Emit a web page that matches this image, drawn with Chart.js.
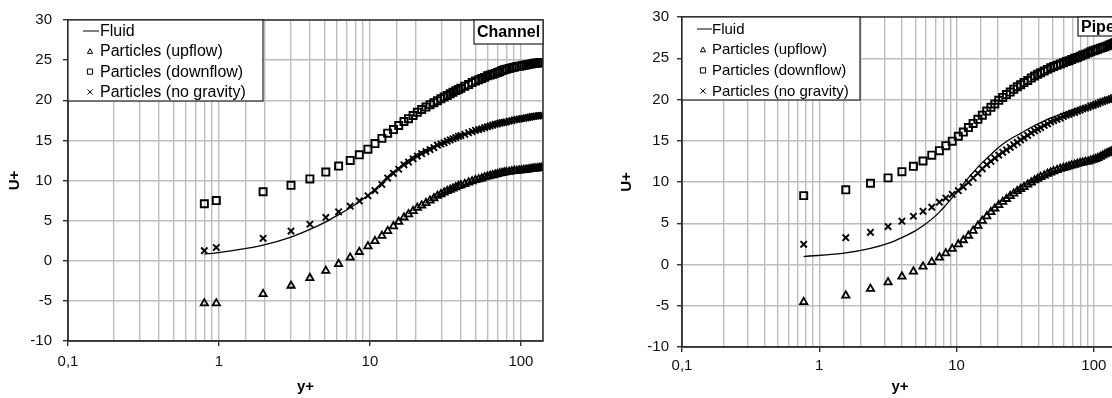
<!DOCTYPE html>
<html>
<head>
<meta charset="utf-8">
<script src="https://cdn.jsdelivr.net/npm/chart.js@4.4.1/dist/chart.umd.min.js"></script>
<style>
html,body{margin:0;padding:0;background:#fff;overflow:hidden;width:1112px;height:398px;position:relative}
.panel{position:absolute;top:0}
#left{left:0}
#right{left:612px}
</style>
</head>
<body>
<div class="panel" id="left"><canvas id="channelChart" width="556" height="398"></canvas></div>
<div class="panel" id="right"><canvas id="pipeChart" width="524" height="398"></canvas></div>
<script>
const seriesNames = ['Fluid', 'Particles (upflow)', 'Particles (downflow)', 'Particles (no gravity)'];
const xLabelTicks = [0.1, 1, 10, 100];
const yMin = -10, yMax = 30, yStep = 5;

// Channel
const chYplus = [0.8, 0.96, 1.96, 3.0, 4.0, 5.1, 6.2, 7.4, 8.5, 9.7, 10.8,
  12.0, 13.1, 14.3, 15.5, 16.8, 18.0, 19.3,
  20.6, 22.0, 23.5, 25.0, 26.5, 28.0, 29.5, 31.0, 32.5, 34.0, 35.5, 37.0, 38.5, 40.0,
  42.5, 45, 47.5, 50, 52.5, 55, 57.5, 60, 62.5, 65, 67.5, 70, 72.5, 75, 77.5, 80,
  83.5, 87, 90.5, 94, 97.5, 101, 104.5, 108, 111.5, 115, 118.5, 122, 125.5, 129, 132.5, 136, 139.5];
const chUp = [-5.3, -5.3, -4.15, -3.1, -2.15, -1.25, -0.4, 0.4, 1.1, 1.8, 2.45,
  3.1, 3.7, 4.3, 4.85, 5.4, 5.8, 6.2,
  6.6, 6.9, 7.2, 7.5, 7.8, 8.1, 8.3, 8.5, 8.7, 8.85, 9.0, 9.15, 9.3, 9.4,
  9.55, 9.75, 9.9, 10.05, 10.15, 10.25, 10.4, 10.5, 10.6, 10.65, 10.75, 10.8, 10.9, 10.95, 11.0, 11.05,
  11.1, 11.15, 11.2, 11.22, 11.25, 11.28, 11.32, 11.35, 11.38, 11.42, 11.45, 11.48, 11.5, 11.53, 11.56, 11.58, 11.6];
const chDown = [7.1, 7.5, 8.6, 9.4, 10.2, 11.05, 11.8, 12.5, 13.2, 13.9, 14.6,
  15.25, 15.9, 16.35, 16.85, 17.35, 17.7, 18.1,
  18.5, 18.85, 19.15, 19.45, 19.7, 19.95, 20.2, 20.4, 20.6, 20.8, 21.0, 21.2, 21.35, 21.5,
  21.75, 21.95, 22.2, 22.4, 22.55, 22.7, 22.85, 23.05, 23.15, 23.25, 23.35, 23.45, 23.55, 23.7, 23.8, 23.85,
  23.95, 24.05, 24.1, 24.2, 24.25, 24.3, 24.35, 24.4, 24.45, 24.5, 24.55, 24.6, 24.62, 24.65, 24.68, 24.7, 24.72];
const chNoGrav = [1.25, 1.65, 2.8, 3.7, 4.55, 5.4, 6.1, 6.8, 7.45, 8.1, 8.75,
  9.5, 10.3, 10.9, 11.4, 11.95, 12.3, 12.7,
  13.05, 13.35, 13.6, 13.85, 14.1, 14.4, 14.55, 14.7, 14.9, 15.05, 15.2, 15.35, 15.5, 15.6,
  15.75, 15.95, 16.1, 16.25, 16.35, 16.45, 16.6, 16.7, 16.8, 16.9, 17.0, 17.05, 17.15, 17.2, 17.25, 17.3,
  17.4, 17.45, 17.55, 17.6, 17.65, 17.7, 17.75, 17.8, 17.85, 17.9, 17.95, 18.0, 18.02, 18.05, 18.08, 18.1, 18.12];
const chFluidYplus = [0.8, 0.96, 1.96, 3.0, 4.0, 5.1, 6.2, 7.4, 8.5, 9.7, 10.8, 12.0, 13.1, 14.3, 15.5, 16.8, 18, 19.3,
  20.6, 23.5, 26.5, 29.5, 32.5, 35.5, 40, 45, 50, 55, 60, 67.5, 75, 83.5, 94, 104.5, 115, 125.5, 139.5];
const chFluid = [0.83, 0.98, 1.95, 2.95, 3.9, 4.85, 5.75, 6.6, 7.35, 8.15, 8.9, 9.75, 10.5, 11.1, 11.6, 12.15, 12.55, 12.95,
  13.3, 13.85, 14.3, 14.7, 15.05, 15.3, 15.7, 16.0, 16.3, 16.5, 16.75, 17.05, 17.25, 17.45, 17.65, 17.8, 17.9, 18.0, 18.1];

// Pipe
const pYplus = [0.77, 1.56, 2.36, 3.17, 4.0, 4.85, 5.7, 6.6, 7.5, 8.35, 9.3, 10.3, 11.2, 12.2,
  13.2, 14.3, 15.4, 16.6, 17.8, 19.0, 20.3, 21.7, 23.1, 24.6, 26.1, 27.7, 29.3,
  31, 33, 35, 37, 39, 41, 43.5, 46, 48.5, 51, 54, 57, 60, 63, 66, 69, 72.5, 76, 79.5,
  83, 87, 91, 95, 99, 103, 107, 111.5, 116, 120.5, 125, 129.5, 134, 138.5, 143, 147.5];
const pUp = [-4.55, -3.75, -2.95, -2.15, -1.45, -0.85, -0.25, 0.3, 0.85, 1.35, 1.9, 2.45, 2.95, 3.5,
  4.1, 4.7, 5.3, 5.85, 6.35, 6.8, 7.2, 7.6, 7.95, 8.3, 8.6, 8.9, 9.15,
  9.4, 9.7, 9.95, 10.2, 10.4, 10.6, 10.8, 11.0, 11.15, 11.3, 11.45, 11.6, 11.7, 11.8, 11.9, 12.0, 12.1, 12.2, 12.3,
  12.35, 12.45, 12.5, 12.6, 12.7, 12.8, 12.9, 13.05, 13.2, 13.35, 13.5, 13.6, 13.7, 13.8, 13.9, 14.0];
const pDown = [8.35, 9.05, 9.85, 10.5, 11.25, 11.9, 12.55, 13.25, 13.8, 14.4, 14.95, 15.55, 16.05, 16.6,
  17.1, 17.6, 18.1, 18.6, 19.05, 19.45, 19.9, 20.25, 20.6, 20.9, 21.25, 21.55, 21.8,
  22.05, 22.3, 22.6, 22.85, 23.05, 23.25, 23.45, 23.65, 23.85, 24.0, 24.15, 24.3, 24.45, 24.6, 24.7, 24.85, 25.0, 25.1, 25.25,
  25.4, 25.5, 25.65, 25.8, 25.9, 26.0, 26.1, 26.2, 26.3, 26.4, 26.5, 26.6, 26.7, 26.8, 26.9, 27.0];
const pNoGrav = [2.45, 3.25, 3.9, 4.6, 5.25, 5.85, 6.45, 6.95, 7.55, 8.05, 8.5, 8.95, 9.4, 9.95,
  10.5, 11.05, 11.6, 12.1, 12.5, 12.9, 13.25, 13.6, 13.9, 14.2, 14.5, 14.8, 15.1,
  15.35, 15.65, 15.95, 16.2, 16.4, 16.6, 16.85, 17.05, 17.3, 17.45, 17.6, 17.75, 17.95, 18.1, 18.2, 18.35, 18.45, 18.6, 18.7,
  18.85, 18.95, 19.05, 19.2, 19.3, 19.4, 19.5, 19.65, 19.75, 19.85, 19.95, 20.0, 20.1, 20.2, 20.3, 20.4];
const pFluidYplus = [0.77, 1.56, 2.36, 3.17, 4.0, 4.85, 5.7, 6.6, 7.5, 8.35, 9.3, 10.3, 11.2, 12.2, 13.2, 14.3, 15.4, 16.6, 17.8, 19.0,
  20.3, 23.1, 26.1, 29.3, 33, 37, 41, 46, 51, 57, 63, 69, 76, 83, 91, 99, 107, 116, 125, 134, 143, 147.5];
const pFluid = [0.96, 1.4, 1.95, 2.55, 3.25, 3.95, 4.7, 5.5, 6.35, 7.2, 8.1, 9.0, 9.75, 10.5, 11.15, 11.8, 12.35, 12.85, 13.35, 13.8,
  14.2, 14.9, 15.45, 15.9, 16.4, 16.85, 17.2, 17.6, 17.9, 18.2, 18.45, 18.7, 18.9, 19.1, 19.3, 19.45, 19.6, 19.8, 19.95, 20.1, 20.3, 20.4];

const FONT = '"Liberation Sans", Arial, sans-serif';
Chart.defaults.font.family = FONT;
Chart.defaults.color = '#000';

const pts = (xs, ys) => xs.map((x, i) => ({x: x, y: ys[i]}));
const isDecade = v => { const e = Math.log10(v); return Math.abs(e - Math.round(e)) < 1e-6; };

function legendGlyph(ctx, style, x, y, r){
  ctx.beginPath();
  if(style==='rect'){ ctx.rect(x-r, y-r, 2*r, 2*r); }
  else if(style==='triangle'){ ctx.moveTo(x, y-r); ctx.lineTo(x+r, y+r*0.8); ctx.lineTo(x-r, y+r*0.8); ctx.closePath(); }
  else { ctx.moveTo(x-r, y-r); ctx.lineTo(x+r, y+r); ctx.moveTo(x+r, y-r); ctx.lineTo(x-r, y+r); }
  ctx.stroke();
}

const panelDecor = {
  id: 'panelDecor',
  afterDraw(chart, args, o){
    const {ctx, chartArea: a} = chart;
    ctx.save();
    ctx.strokeStyle = '#333'; ctx.lineWidth = 1.5;
    ctx.strokeRect(a.left, a.top, a.right - a.left, a.bottom - a.top);

    // legend box
    const L = o.legend, bx = a.left, by = a.top;
    ctx.fillStyle = '#fff'; ctx.fillRect(bx, by, L.w, L.h);
    ctx.lineWidth = 1.2; ctx.strokeStyle = '#222'; ctx.strokeRect(bx, by, L.w, L.h);
    ctx.font = L.size + 'px ' + FONT;
    ctx.textBaseline = 'middle'; ctx.textAlign = 'left';
    chart.data.datasets.forEach((ds, i) => {
      const y = by + L.row0 + i * L.rowH;
      ctx.strokeStyle = '#000'; ctx.lineWidth = 1;
      if(ds.showLine){
        ctx.beginPath(); ctx.moveTo(bx + L.lineX0, y); ctx.lineTo(bx + L.lineX1, y); ctx.stroke();
      } else {
        legendGlyph(ctx, ds.pointStyle, bx + L.markX, y, 2.6);
      }
      ctx.fillStyle = '#000';
      ctx.fillText(ds.label, bx + L.textX, y + 0.5);
    });

    // panel tag
    const T = o.tag;
    ctx.font = 'bold ' + T.size + 'px ' + FONT;
    const tx = a.right - T.w;
    ctx.fillStyle = '#fff'; ctx.fillRect(tx, a.top, T.w, T.h);
    ctx.lineWidth = 1.2; ctx.strokeStyle = '#222'; ctx.strokeRect(tx, a.top, T.w, T.h);
    ctx.fillStyle = '#000'; ctx.textAlign = 'left';
    ctx.fillText(T.text, tx + 3, a.top + T.h / 2 + 1);
    ctx.restore();
  }
};

function makeChart(id, d){
  const datasets = [
    {label: seriesNames[0], data: pts(d.fx, d.fy), showLine: true, borderColor: '#000', borderWidth: 1.3,
      pointRadius: 0, cubicInterpolationMode: 'monotone', order: 0},
    {label: seriesNames[1], data: pts(d.x, d.up), pointStyle: 'triangle', pointRadius: 4.2,
      borderColor: '#000', backgroundColor: 'rgba(0,0,0,0)', pointBorderWidth: 1.8},
    {label: seriesNames[2], data: pts(d.x, d.down), pointStyle: 'rect', pointRadius: 5,
      borderColor: '#000', backgroundColor: 'rgba(0,0,0,0)', pointBorderWidth: 1.9},
    {label: seriesNames[3], data: pts(d.x, d.ng), pointStyle: 'crossRot', pointRadius: 4.5,
      borderColor: '#000', backgroundColor: 'rgba(0,0,0,0)', pointBorderWidth: 1.9}
  ];
  return new Chart(document.getElementById(id), {
    type: 'scatter',
    data: {datasets},
    options: {
      responsive: false, animation: false, devicePixelRatio: 1,
      layout: {padding: {left: 0, right: d.padRight, top: d.padTop, bottom: 0}},
      plugins: {legend: {display: false}, tooltip: {enabled: false}, panelDecor: {legend: d.legend, tag: d.tag}},
      scales: {
        x: {
          type: 'logarithmic', min: 0.1, max: d.xMax,
          afterFit: s => { s.height = d.xAxisH; },
          border: {color: '#333', width: 1.5},
          grid: {color: '#bdbdbd', lineWidth: 1.4, tickLength: 5,
            tickColor: c => (c.tick && isDecade(c.tick.value)) ? '#333' : 'rgba(0,0,0,0)'},
          ticks: {autoSkip: false, maxRotation: 0, padding: d.xPad, color: '#111', font: {size: 15},
            callback: v => xLabelTicks.some(t => Math.abs(t - v) < 1e-9) ? String(v).replace('.', ',') : ''},
          title: {display: true, text: 'y+', font: {size: 15, weight: 'bold'}, color: '#000', padding: {top: 0, bottom: 2}}
        },
        y: {
          min: yMin, max: yMax,
          afterFit: s => { s.width = d.yAxisW; },
          border: {color: '#333', width: 1.5},
          grid: {color: '#bdbdbd', lineWidth: 1.4, tickLength: 5, tickColor: '#333'},
          ticks: {stepSize: yStep, padding: d.yPad, color: '#111', font: {size: 15}},
          title: {display: true, text: 'U+', font: {size: 15, weight: 'bold'}, color: '#000', padding: {top: 6, bottom: 0}}
        }
      }
    },
    plugins: [panelDecor]
  });
}

makeChart('channelChart', {
  x: chYplus, up: chUp, down: chDown, ng: chNoGrav, fx: chFluidYplus, fy: chFluid,
  xMax: 140, padRight: 13, padTop: 19, xAxisH: 57, yAxisW: 68, xPad: 7, yPad: 11,
  legend: {w: 195, h: 81, row0: 11, rowH: 20.3, lineX0: 15, lineX1: 31, markX: 22, textX: 32, size: 16},
  tag: {text: 'Channel', w: 69, h: 24, size: 16}
});

makeChart('pipeChart', {
  x: pYplus, up: pUp, down: pDown, ng: pNoGrav, fx: pFluidYplus, fy: pFluid,
  xMax: 150, padRight: 18, padTop: 14, xAxisH: 51, yAxisW: 70, xPad: 5, yPad: 8,
  legend: {w: 178, h: 83, row0: 12, rowH: 20.7, lineX0: 15, lineX1: 30, markX: 21, textX: 30, size: 15},
  tag: {text: 'Pipe', w: 40, h: 19, size: 16}
});
</script>
</body>
</html>
